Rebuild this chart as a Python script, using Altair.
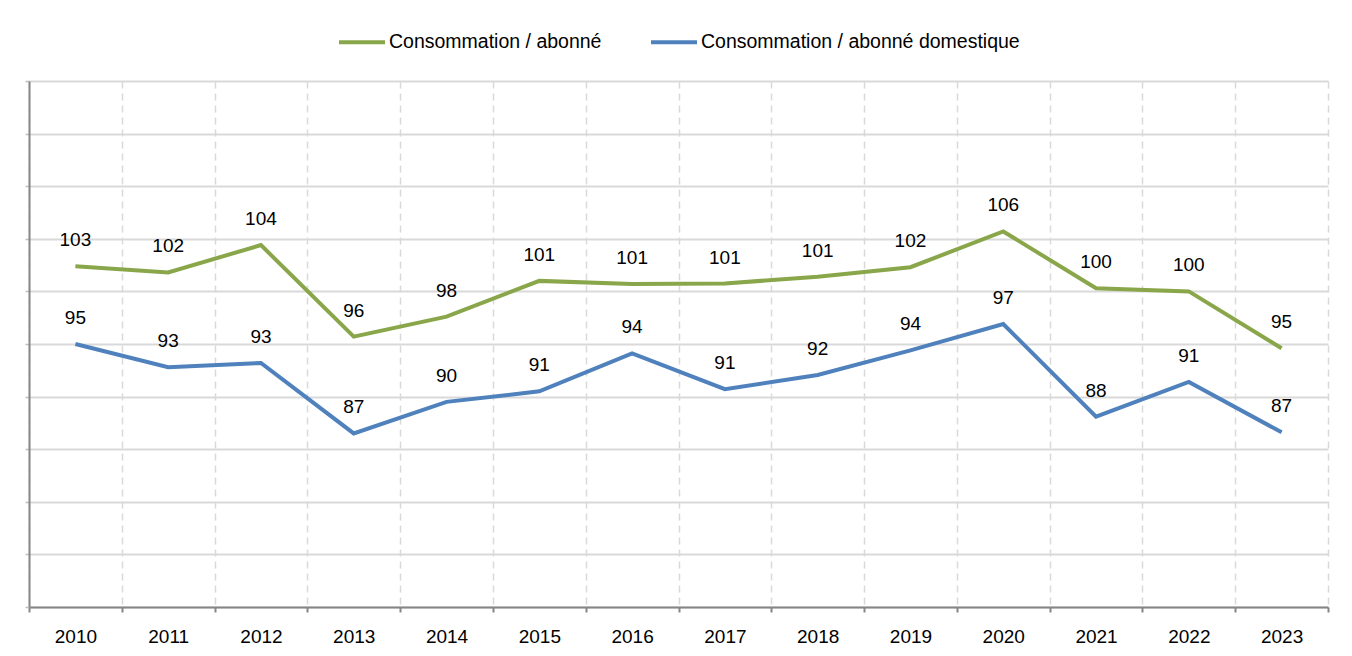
import altair as alt
import pandas as pd

years = [str(y) for y in range(2010, 2024)]
series_names = ["Consommation / abonné", "Consommation / abonné domestique"]
total = [102.4, 101.8, 104.4, 95.7, 97.6, 101.0, 100.7, 100.75, 101.4, 102.3, 105.7, 100.3, 100.0, 94.6]
total_labels = ["103", "102", "104", "96", "98", "101", "101", "101", "101", "102", "106", "100", "100", "95"]
domestic = [95.0, 92.8, 93.2, 86.5, 89.5, 90.5, 94.1, 90.7, 92.05, 94.4, 96.9, 88.1, 91.4, 86.6]
domestic_labels = ["95", "93", "93", "87", "90", "91", "94", "91", "92", "94", "97", "88", "91", "87"]
colors = ["#8aa64a", "#4f81bd"]

rows = []
for y, v, l in zip(years, total, total_labels):
    rows.append({"year": y, "value": v, "label": l, "series": series_names[0]})
for y, v, l in zip(years, domestic, domestic_labels):
    rows.append({"year": y, "value": v, "label": l, "series": series_names[1]})
df = pd.DataFrame(rows)

FONT = "Liberation Sans"

x = alt.X("year:N", sort=years, title=None,
          scale=alt.Scale(paddingInner=0, paddingOuter=0),
          axis=alt.Axis(labelAngle=0, labelFontSize=19, labelColor="#000000", labelFont=FONT,
                        labelPadding=15, tickBand="extent", grid=True,
                        gridColor="#d9d9d9", gridDash=[7, 5], gridWidth=1.5,
                        domainColor="#868686", domainWidth=2, tickColor="#868686",
                        tickWidth=2, tickSize=5))
y = alt.Y("value:Q", title=None,
          scale=alt.Scale(domain=[70, 120], nice=False, zero=False),
          axis=alt.Axis(values=list(range(70, 121, 5)), labels=False, grid=True,
                        gridColor="#d9d9d9", gridWidth=2, domainColor="#868686",
                        domainWidth=2, tickColor="#bfbfbf", tickSize=4, tickWidth=1.5))

color = alt.Color("series:N",
                  scale=alt.Scale(domain=series_names, range=colors),
                  legend=alt.Legend(title=None, orient="none", direction="horizontal",
                                    legendX=308, legendY=-64, symbolType="stroke",
                                    symbolSize=2116, symbolStrokeWidth=4,
                                    labelFontSize=19.5, labelFont=FONT, labelColor="#000000",
                                    labelOffset=2, columnPadding=41, labelLimit=0))

base = alt.Chart(df)
lines = base.mark_line(strokeWidth=4).encode(x=x, y=y, color=color)
texts = base.mark_text(dy=-26, fontSize=19, font=FONT, color="#000000", baseline="middle").encode(
    x=alt.X("year:N", sort=years), y="value:Q", text="label:N")

chart = alt.layer(lines, texts).properties(
    width=1299, height=526,
    autosize=alt.AutoSizeParams(type="none"),
    padding={"left": 21, "top": 73, "right": 16, "bottom": 41},
    background="#ffffff",
).configure_view(stroke=None)

chart.save("out.html", embed_options={"renderer": "svg", "actions": False})
